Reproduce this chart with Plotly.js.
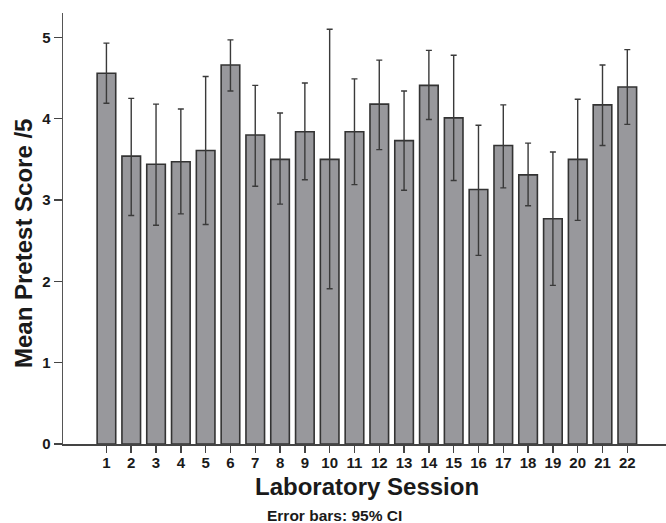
<!DOCTYPE html>
<html>
<head>
<meta charset="utf-8">
<script src="https://cdn.plot.ly/plotly-3.0.1.min.js"></script>
<style>html,body{margin:0;padding:0;background:#fff;}#chart{width:666px;height:523px;}</style>
</head>
<body>
<div id="chart"></div>
<script>
const sessions = ['1','2','3','4','5','6','7','8','9','10','11','12','13','14','15','16','17','18','19','20','21','22'];
const meanScore = [4.56,3.54,3.44,3.47,3.61,4.66,3.80,3.50,3.84,3.50,3.84,4.18,3.73,4.41,4.01,3.13,3.67,3.31,2.77,3.50,4.17,4.39];
const ciUpper   = [4.93,4.25,4.18,4.12,4.52,4.97,4.41,4.07,4.44,5.10,4.49,4.72,4.34,4.84,4.78,3.92,4.17,3.70,3.59,4.24,4.66,4.85];
const ciLower   = [4.19,2.81,2.69,2.83,2.70,4.34,3.17,2.95,3.25,1.91,3.19,3.62,3.12,3.99,3.24,2.32,3.15,2.93,1.95,2.75,3.67,3.93];
const yTicks = [0,1,2,3,4,5];

const plus = meanScore.map((m,i)=>+(ciUpper[i]-m).toFixed(3));
const minus = meanScore.map((m,i)=>+(m-ciLower[i]).toFixed(3));

const FONT = 'Liberation Sans, Arial, Helvetica, sans-serif';

const trace = {
  type: 'bar',
  x: sessions,
  y: meanScore,
  marker: {color: '#98989c', line: {color: '#333333', width: 1.6}},
  error_y: {type: 'data', symmetric: false, array: plus, arrayminus: minus,
            color: '#3a3a3a', thickness: 1.4, width: 3},
  hoverinfo: 'x+y'
};

const layout = {
  width: 666, height: 523,
  margin: {l: 63, r: 0, t: 13, b: 79, pad: 0},
  paper_bgcolor: '#ffffff', plot_bgcolor: '#ffffff',
  showlegend: false,
  bargap: 0.25,
  font: {family: FONT, color: '#1a1a1a'},
  xaxis: {
    type: 'category',
    range: [-1.751, 22.56],
    showline: true, linecolor: '#444', linewidth: 1.5,
    ticks: 'outside', ticklen: 7, tickwidth: 1.5, tickcolor: '#444',
    ticklabelstandoff: -3,
    showgrid: false, zeroline: false,
    tickfont: {family: FONT, size: 15, weight: 'bold', color: '#1a1a1a'},
    fixedrange: true
  },
  yaxis: {
    range: [0, 5.3],
    tickvals: yTicks,
    ticktext: yTicks.map(String),
    showline: true, linecolor: '#555', linewidth: 1.5,
    ticks: 'outside', ticklen: 8, tickwidth: 1.5, tickcolor: '#444',
    showgrid: false, zeroline: false,
    tickfont: {family: FONT, size: 15, weight: 'bold', color: '#1a1a1a'},
    fixedrange: true
  },
  annotations: [
    {text: 'Mean Pretest Score /5', xref: 'paper', yref: 'paper', x: -0.0652, y: 0.4656,
     xanchor: 'center', yanchor: 'middle', textangle: -90, showarrow: false,
     font: {family: FONT, size: 24, weight: 'bold', color: '#1a1a1a'}},
    {text: 'Laboratory Session', xref: 'paper', yref: 'paper', x: 0.504, y: -0.0975,
     xanchor: 'center', yanchor: 'middle', showarrow: false,
     font: {family: FONT, size: 24, weight: 'bold', color: '#1a1a1a'}},
    {text: 'Error bars: 95% CI', xref: 'paper', yref: 'paper', x: 0.4503, y: -0.167,
     xanchor: 'center', yanchor: 'middle', showarrow: false,
     font: {family: FONT, size: 15.5, weight: 'bold', color: '#1a1a1a'}}
  ]
};

Plotly.newPlot('chart', [trace], layout, {displayModeBar: false, staticPlot: true});
</script>
</body>
</html>
